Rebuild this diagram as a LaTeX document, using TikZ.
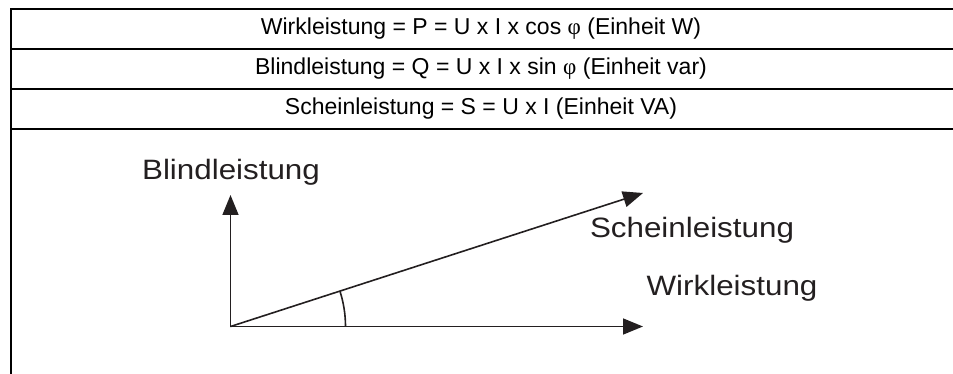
\documentclass[tikz,border=0pt]{standalone}
\usepackage{fontspec}
\setmainfont{Liberation Sans}
\newfontfamily\phifont{Liberation Serif}
\newfontfamily\labelfont[FakeStretch=1.12]{Liberation Sans}
\usetikzlibrary{arrows.meta}

\definecolor{ink}{HTML}{231F20}

\begin{document}
\begin{tikzpicture}[x=1pt,y=-1pt,>={Triangle[length=20pt,width=16pt]},
    line cap=butt,line join=miter,
    rowtext/.style={font=\fontsize{23}{27}\selectfont,inner sep=0pt},
    axislabel/.style={font=\labelfont\fontsize{28}{32}\selectfont,
      text=ink,inner sep=0pt},
    vector/.style={->,draw=ink,fill=ink,line width=1.6pt}]
    \useasboundingbox (0,0) rectangle (953,374);

    % The table with the three definitions.
    \draw[line width=2pt] (11,374) -- (11,9) -- (953,9);
    \foreach \yy in {49,89,129}
      \draw[line width=2pt] (11,\yy) -- (953,\yy);
    \node[rowtext] (wirkrow) at (481,29)
      {Wirkleistung = P = U x I x cos {\phifont φ} (Einheit W)};
    \node[rowtext] (blindrow) at (481,69)
      {Blindleistung = Q = U x I x sin {\phifont φ} (Einheit var)};
    \node[rowtext] (scheinrow) at (481,109)
      {Scheinleistung = S = U x I (Einheit VA)};

    % The power triangle below it.
    \coordinate (origin) at (230.5,326.5);
    \coordinate (blindtip) at (230.5,195);
    \coordinate (wirktip) at (643,326.5);
    \coordinate (scheintip) at (643,193);
    \draw[vector] (origin) -- (blindtip);
    \draw[vector] (origin) -- (wirktip);
    \draw[vector] (origin) -- (scheintip);
    \draw[ink,line width=1.6pt] ([shift={(0:115)}]origin)
      arc[start angle=0,end angle=-18,radius=115];

    \node[axislabel] (blindlabel) at (231,172) {Blindleistung};
    \node[axislabel] (scheinlabel) at (692,230) {Scheinleistung};
    \node[axislabel] (wirklabel) at (732,288) {Wirkleistung};
  \end{tikzpicture}
\end{document}
